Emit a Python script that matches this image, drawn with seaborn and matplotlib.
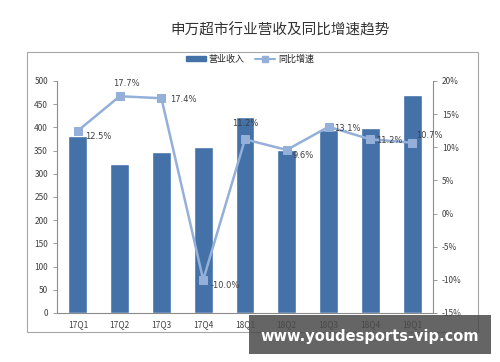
import numpy as np
import matplotlib
matplotlib.use("Agg")
import matplotlib.pyplot as plt
import seaborn as sns
from matplotlib.patches import Rectangle
from matplotlib.lines import Line2D
from matplotlib.ticker import FixedLocator

sns.set_theme(style="white")
plt.rcParams["font.family"] = ["Noto Sans CJK SC", "DejaVu Sans"]

quarters = ["17Q1", "17Q2", "17Q3", "17Q4", "18Q1", "18Q2", "18Q3", "18Q4", "19Q1"]
revenue = [381, 322, 347, 358, 423, 352, 395, 398, 470]
growth = [12.5, 17.7, 17.4, -10.0, 11.2, 9.6, 13.1, 11.2, 10.7]
growth_labels = ["12.5%", "17.7%", "17.4%", "-10.0%", "11.2%", "9.6%", "13.1%", "11.2%", "10.7%"]

bar_color = "#4371A8"
line_color = "#94B0D8"
grey = "#8C8C8C"
text_color = "#404040"

fig = plt.figure(figsize=(5, 3.62), dpi=100)
fig.patch.set_facecolor("white")

# outer chart frame (Excel style)
fig.patches.append(Rectangle((27 / 500, 1 - 332 / 362), 451 / 500, 280 / 362,
                             transform=fig.transFigure, fill=False,
                             edgecolor="#A6A6A6", linewidth=0.8))

ax = fig.add_axes([57 / 500, 1 - 313 / 362, 376 / 500, 232 / 362])
sns.barplot(x=quarters, y=revenue, color=bar_color, width=0.45,
            saturation=1, ax=ax)
ax.set_ylim(0, 500)
ax.set_yticks(range(0, 501, 50))
ax.set_xlim(-0.5, len(quarters) - 0.5)
ax.set_xlabel("")
ax.set_ylabel("")

ax2 = ax.twinx()
x = np.arange(len(quarters))
sns.lineplot(x=x, y=growth, color=line_color, linewidth=1.8, marker="s",
             markersize=6, markeredgecolor=line_color, ax=ax2)
ax2.set_ylim(-15, 20)
ax2.set_yticks(range(-15, 21, 5))
ax2.set_yticklabels([f"{v}%" for v in range(-15, 21, 5)])

offsets = [(5, -4), (-5, 6), (6, -1), (5, -4), (0, 8), (4, -4), (4, -1), (4, -1), (3, 2)]
for i, (v, lab) in enumerate(zip(growth, growth_labels)):
    dx, dy = offsets[i]
    ha = "center" if dx == 0 else "left"
    ax2.annotate(lab, (i, v), xytext=(dx, dy), textcoords="offset points",
                 ha=ha, va="bottom" if dy > 0 else "center",
                 fontsize=6, color=text_color, family=["DejaVu Sans"])

for a in (ax, ax2):
    for s in a.spines.values():
        s.set_color(grey)
        s.set_linewidth(0.8)
    a.spines["top"].set_visible(False)
    a.tick_params(labelsize=6, colors=text_color, length=3, width=0.6,
                  color=grey, direction="out")
ax2.spines["left"].set_visible(False)
ax2.spines["bottom"].set_visible(False)
ax.spines["right"].set_visible(False)
ax.tick_params(axis="x", length=0, pad=5)
ax.xaxis.set_minor_locator(FixedLocator(np.arange(-0.5, len(quarters), 1)))
ax.tick_params(axis="x", which="minor", length=3, color=grey, width=0.6)
ax.tick_params(axis="y", left=True)
ax2.tick_params(axis="y", right=True)

fig.text(0.56, 1 - 30 / 362, "申万超市行业营收及同比增速趋势", ha="center",
         va="center", fontsize=10.5, color="#333333")

handles = [Rectangle((0, 0), 1, 1, color=bar_color),
           Line2D([0], [0], color=line_color, marker="s", markersize=4, linewidth=1.5)]
fig.legend(handles, ["营业收入", "同比增速"], loc="center",
           bbox_to_anchor=(0.5, 1 - 59 / 362), ncol=2, frameon=False,
           fontsize=6.5, handlelength=2.2, handleheight=0.6, columnspacing=1.2,
           handletextpad=0.3)

# watermark banner (semi-transparent, tick labels show through)
fig.patches.append(Rectangle((249 / 500, 1 - 354 / 362), 242 / 500, 39 / 362,
                             transform=fig.transFigure, facecolor="#4A4A4A",
                             edgecolor="none", alpha=0.85, zorder=10))
fig.text(370 / 500, 1 - 337 / 362, "www.youdesports-vip.com", ha="center", va="center",
         fontsize=10.5, fontweight="bold", color="white", family=["DejaVu Sans"],
         zorder=11)

fig.savefig("out.png", dpi=100)
